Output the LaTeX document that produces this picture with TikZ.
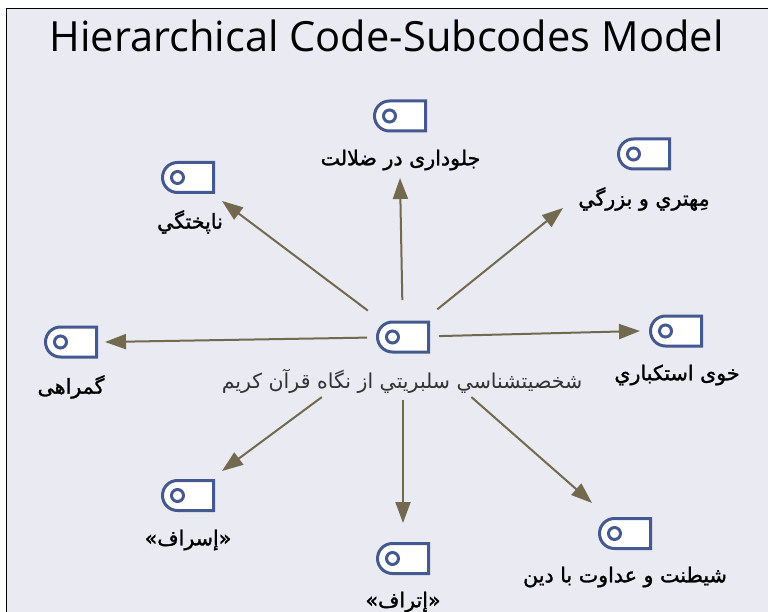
\documentclass[tikz,border=0pt]{standalone}
\usepackage{fontspec}
\setmainfont{Open Sans}
\newfontfamily\arabicfont[Script=Arabic]{DejaVu Sans}
\newfontfamily\arabicbold[Script=Arabic,FakeBold=1.4]{DejaVu Sans}
\TeXXeTstate=1
\definecolor{bgc}{HTML}{E9EAF2}
\definecolor{iconc}{HTML}{44598F}
\definecolor{arrc}{HTML}{72694F}
\usetikzlibrary{arrows.meta}
\tikzset{
 x=1pt,y=-1pt,
 iconbox/.style={minimum width=51pt,minimum height=30pt,inner sep=0pt,outer sep=0pt},
 iconline/.style={draw=iconc,line width=3pt,fill=white,line join=miter},
 dot/.style={circle,draw=iconc,line width=3pt,fill=white,minimum size=12pt,inner sep=0pt},
 blabel/.style={font=\arabicbold\fontsize{20.6}{24}\selectfont,text=black,inner sep=0pt},
 clabel/.style={font=\arabicfont\fontsize{20.5}{24}\selectfont,text=black!80,inner sep=0pt},
 arr/.style={draw=arrc,line width=2pt,-{Triangle[length=21pt,width=15pt,fill=arrc]}},
}
\newcommand{\iconat}[3]{%
 \node[iconbox] (#1) at (#2,#3) {};
 \draw[iconline] (#1.north east) -- (#1.south east) -- ([xshift=15pt]#1.south west)
   arc[start angle=270,end angle=90,radius=15pt] -- cycle;
 \node[dot] (#1d) at ([xshift=15pt]#1.west) {};
}
\begin{document}
\begin{tikzpicture}
\useasboundingbox (0,0) rectangle (768,612);
\fill[white] (0,0) rectangle (768,612);
\fill[bgc] (6,8) rectangle (768,612);
\draw[black,line width=1.6pt] (6.5,612) -- (6.5,8.5) -- (768,8.5);
\node[font=\fontsize{41.6}{48}\selectfont,inner sep=0pt,text=black] (title) at (386.5,36) {Hierarchical Code-Subcodes Model};

\iconat{hub}{403}{337}
\iconat{a}{400}{116}
\iconat{b}{188}{177.5}
\iconat{c}{644}{154}
\iconat{d}{676}{331}
\iconat{e}{71}{342}
\iconat{f}{188}{495.5}
\iconat{g}{403}{558.5}
\iconat{h}{625}{533.5}

\node[clabel] (hubl) at (402,381) {\beginR شخصيتشناسي سلبريتي از نگاه قرآن كريم\endR};
\node[blabel] (al) at (400.5,160) {\beginR جلوداری در ضلالت\endR};
\node[blabel] (bl) at (190,222) {\beginR ناپختگي\endR};
\node[blabel] (cl) at (644,199) {\beginR مِهتري و بزرگي\endR};
\node[blabel] (dl) at (677,375) {\beginR خوی استکباري\endR};
\node[blabel] (el) at (71,387) {\beginR گمراهی\endR};
\node[blabel] (fl) at (188,540) {\beginR «إسراف»\endR};
\node[blabel] (gl) at (403,602) {\beginR «إتراف»\endR};
\node[blabel] (hl) at (625,577) {\beginR شيطنت و عداوت با دين\endR};

\coordinate (ta) at (400,178);
\coordinate (tb) at (222,201);
\coordinate (tc) at (563,208);
\coordinate (td) at (640,331);
\coordinate (te) at (105,342);
\coordinate (tf) at (222,471);
\coordinate (tg) at (403,523);
\coordinate (th) at (592,503);
\draw[arr,shorten <=37pt] (hub.center) -- (ta);
\draw[arr,shorten <=44pt] (hub.center) -- (tb);
\draw[arr,shorten <=44pt] (hub.center) -- (tc);
\draw[arr,shorten <=36pt] (hub.center) -- (td);
\draw[arr,shorten <=36pt] (hub.center) -- (te);
\draw[arr,shorten <=101pt] (hub.center) -- (tf);
\draw[arr,shorten <=63pt] (hub.center) -- (tg);
\draw[arr,shorten <=91pt] (hub.center) -- (th);
\end{tikzpicture}
\end{document}
